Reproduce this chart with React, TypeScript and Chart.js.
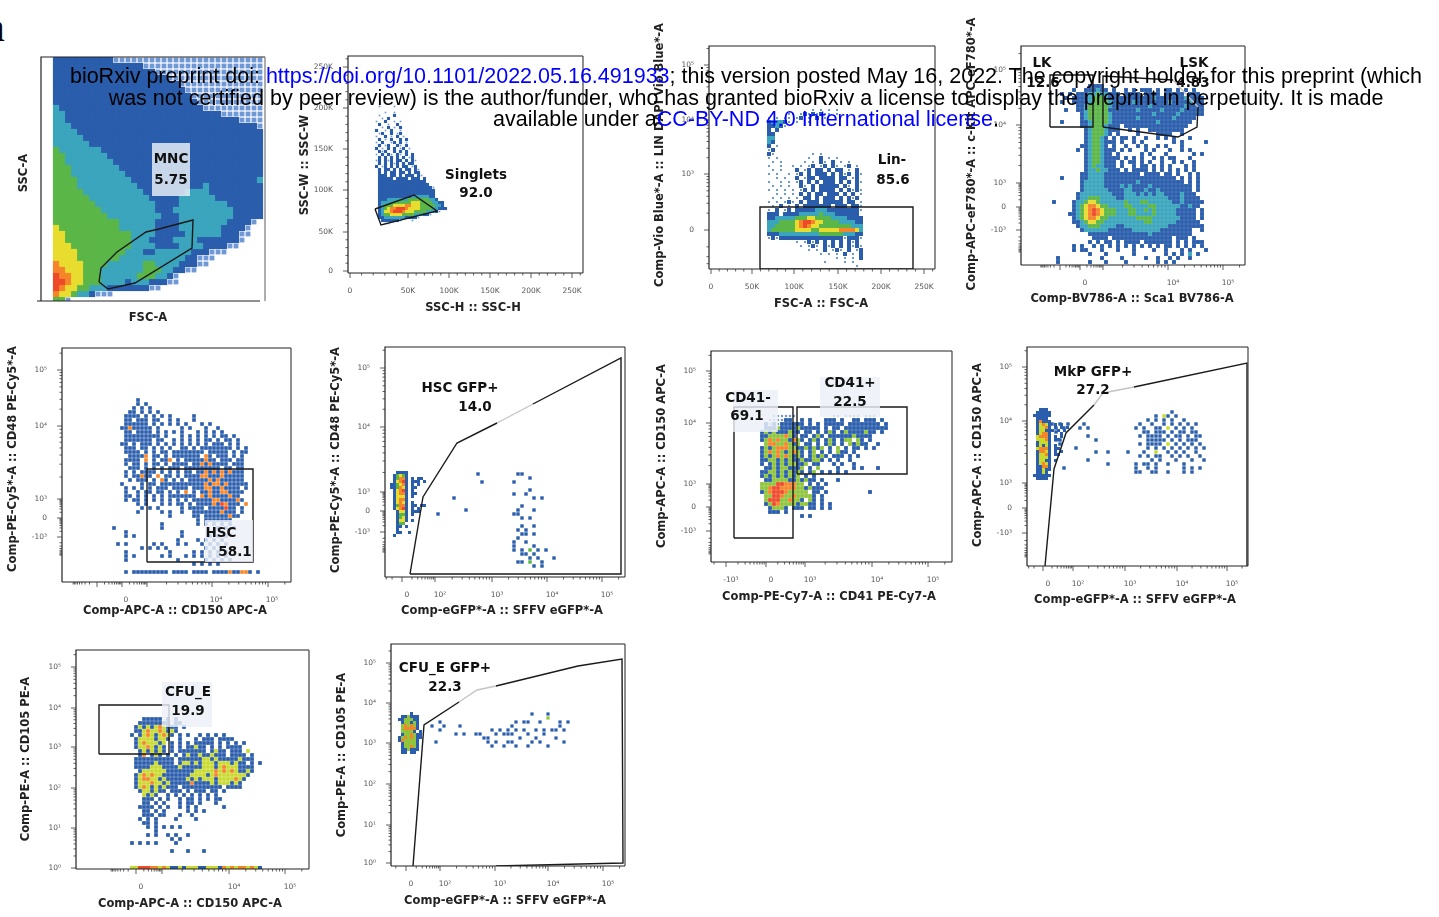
import { useEffect, useRef } from "react";
import { Chart, registerables } from "chart.js";
Chart.register(...registerables);

// ---------- density rows: each character is a density level ----------
const MNC_ROWS = [
"..1111111111aaaaaaaaaaaaaaaaaaaaaaaaa","..111111111111111aaaaaaaaaaaaaaaaaaaa","..11111111111111111aaaaaaaaaaaaaaaaaa","..1111111111111111111aaaaaaaaaaaaaaaa",
"..111111111111111111111aaaaaaaaaaaaaa","..1111111111111111111111aaaaaaaaaaaaa","..11111111111111111111111aaaaaaaaaaaa","..111111111111111111111111aaaaaaaaaaa",
"..2111111111111111111111111aaaaaaaaaa","..2211111111111111111111111111aaaaaaa","..2211111111111111111111111111111aaaa","..2221111111111111111111111111111111a",
"..22221111111111111111111111111111111","..22222111111111111111111111111111111","..22222211111111111111111111111111111","..32222222111111111111111111111111111",
"..33222222211111111111111111111111111","..33222222221111111111111111111111111","..33322222222111111111111111111111111","..33322222222211111111111111111111111",
"..33332222222221111111111111111111112","..33332222222222111111111112111111111","..33333222222222211111112222111111111","..33333322222222221111122222211111111",
"..33333332222222222111122222222111111","..33333333222222222111222222222211111","..33333333322222222211122222222211111","..333333333332222221111222222221111a",
"..43333333333222222111122222221111a","..4433333333333222211111222222111aa","..4433333333333222111122221111111a","..44433333333332222111122221111aa",
"..44443333333322211222222111aaa","..444433333332222222222211aaa","..544443333222222332222111aa","..5544433322222223332211aa",
"..65544333222222333221a","..6654433322221222111aa","..6544332221111111aa","..5443221aaa","..33a"];

const SINGLETS_ROWS = [
".a....a",".......","...a..a",".a....1","..a.1..","a..1..a.a",".1..a..1","..a.1.a.1","1..a.1..a",".a1..1.a1","a..1.a.1.a",".1.a.1..1.1","a.1..a1.1.a",".1.a1..1a.1",
"1.a.1.1.a1.a",".1a1..1.1.1.","a.1.1a.1a.1.1",".1.1.1.1.1.a1","a1.1a1.11.1.1a",".1.1.1a1.1.11","1.a1.1.1.11.a1",".1.11.1.1.11.1a",".1.1.11.11.1.11",".111.11.1.111.1a",
".11111.1111.111.1",".1111111111111111",".11111111111111111",".111111111111111111a",".1111111111111111111",".1111111111111111111",".1111111111122222211",".11122222223333333221",
".1222233333344433332211",".1233344445544433333221",".12345566654444333322111",".12445666544433332221a",".12334444333322211a",".1122222221111a","..111111a...a","...aa"];

const LIN_ROWS = [
"...........a.a.a.a......",".....aa.a1a1a1aa.a......","a.a.aa.a1.a.1.a.........","12221a.a..a.............","1121a...................","1.1.....................","11......................","22......................",
"21......................","1.a.....................","a1......................","1a.........a.a..........","a.a.......a..1.a.a......",".a.a.....a.a.1a.1.a.a...","a..a..a.a.a1.a1.1a.a1.a.",".a.a...1.a1.11.1.11.a.1.",
"a.a..a.a1.1.111.1.1a1.1a","..a.a..1.a11.1111.11.a1.","a..a.a.a1.1.1.111.1.1.1a",".a.a.a..1a.1.11111.1a.1.","a.a.a.a.a1.1.1111.1.1a1a","..a.a.a.1.1.11.111.1.1.a",".a.a.a.a.11.1.111.1.1a1.","a.a.a1a.1.111.11111.11.a",
".a.1.a.1.1111111.111.11a","a.1.a1.1111122211111111a","111.1111222223222111111","112222233344333322221111","222333345665443333222211","223333345654433333333222","233333344443344444555542","111222222222233333322211",
"a1a1111111111111111a111a",".......a.a1a1.1.1.1.1a1.","........a.a1a.1a1.1.1a1a","..........a.a.1.a1a.1.a1",".............a.a.a.1.a.1",".................a.a.a.1","..............a....a.a..","......................a"];

const KIT_ROWS = [
"..........1111","......1..111211.1..1.1.111.1.11.1.1.1","...1.1.11122322111.1111.1111.11111.111","....1.111123332111111111112111111121111","...1..111123333211111211111111211112111",".......11233333211111111121111111121111",
"....1..11233333111111121111121111211111","........1233333211111111112111112111111","........12333332111111211111111211111","...1....1123333211111111111211111111","........1123332111.1111111111111111",".........123332111..1.1..111111111",
".........1233321.1....1....1111..1",".........123321.1.11.1..1..1.1.1...1",".........12332111.1..1.1.......1.1.....1","........1123321.1..1..1.1..1.1...1",".......1.12332111.1.1...1.1...1..1.1",".........1233211.1.....1.1...1......1.1",
".........123321111.1.1.1..1.1.11...1",".........12332111.1.11.1.1..1..1.1..1",".........12322111.1..1.11.1.1.1...1.1",".........122322111.1.1111.1.1.1.1.1.1","........112222111111111.1111.11.1..1.1","...1....112222111111111111111111.1.1.1",
"........12222211111111211111111111.1.1","........1222221111212111121111111111.1","........1222222111122111211211111111.1",".......122222222111222121212211112111",".......1223332222112222222222211121111",".1....122344322222232223322222211211111",
"......12345543322223322223322222211211","......1234565433322233223232222211111.1",".....11234565433322233222232222211111.1","......1234554332222222333322222221111.1","......11234433222222222233222222111111",".......12233322221122222222222111111111",
"........1222222111111222222211111111..1","..........11111111111111121111111111","...........1111.111111111111111.111.1","..........1.1.11.1.1111.1111111.1.1.111","......1.1..1.1.1.1.1.1.1.1.1.11.1.1.1.1","......1.11...1...1...1....1..1...1.1...1",
"..........1...1......1.......1.1.1.2.1","..1..........1....1.....1..1..1.1..1","..1.......1...1....1.......1.1.1"];

const CD48_ROWS = [
"......1","......1.1",".....1.1.1","....11.1.1.1","...1111.1.1.1.1.....1","...11.111.11..1.1...1","...111111.1.1.1.1.1...1.1","..11511111.1.....1.1...1..1",
"...11.1111.1.1.1.1...1.1.1.1","...111111111.1...1.1.1.1.1.11.1","...1111111.11..1.1.1.1.11.1.11.1","..11.1.111.1.1.1.1.1.1.1.111.1.1","...111.11.1.1.1..11.1.11111111.1.1","...1111.1.1.11.11111111.11111.1.11","....11115.11.1.1111111.51.111.1.1","...1111.5.1.115.1.11111511.111.11",
"...1.11.1.11.1.1111.115151111.111","....111.1.1.1.111.111111111.11.11","...1.1.1111.1.1.1.11.115151515111","...1.11511.5.11.1.111155111511111","....1.111.1.51.1.1.11111515111111","..1....1.11.1111111111151551511111","...1.1.1.1.111.1111.111551151111.1","...1..1.11.11.1.1.5.1.11511551111",
"...11.1.1.1.1.1111111.5151111511","...1.11.1.1.1.1.1.1.1111155111151","......1.1...1.1.11.1.11115165111.5",".......1.1.1.....1.1111.1111611.1","......1.....1.1..1..11111115111.1","..............1.....11.111111511",".....................1.1111111","............1........1.1.1.1.1",
"1...........1.............1.1.1","...1.............1.......1.1","...1.1...........1......1.1.1","................1....1.1.1.1",".1.1......1.1...1.1...1.1.1.1",".......1.1.1.1.........1.1.1","...1..........1.....1.1.1.1.1","...1.1......1.1...1.1.1.1.1.1",
"...1............1......1.1.1.1","....................1.1.1.1","","...1.111111111.1111.1111.1111511551.1"];

const GFP_HSC_STRIP = [
"..1111",".13431",".13551.1.11",".14561.111.1","113451.1.1","113541.11",".14561.1",".14551.11",".14441.1",".14551",".14541.1",".13551.11.11",".14561.1.1","..1441.111","..1331.1","..1341","..1441.1","..133","..11.1","..1","..11..1",".1"];
const GFP_HSC_CLOUD = [
"...........1.........11","........................1","............1.......1","","........................1","....................1..1",".....1...................1.1","","......................1","........1............1...1",
".1..................11","......................1.1","","......................1..1",".....................1.1","......................11.1",".....................1","....................1..1","....................1....1","....................1.1.3.1.1",
"......................11.1","........................1.1...1",".....................11.3..1",".........................1.1"];

const CD41_ROWS = [
".....aaaaaa.........aa.aaaa.aaa","....aaaa11..1.1...111.1..11.111.1","...1a1a111111.1.1.11111.11111111.1","...111g1111g11111.1.11.11111111111","..1g1g111g11.11.1.1g1.1g1111g11.1","..11gggg5g1.11.1g1.111111g1111","..1g5g5gg15g1.1g1.1g1.1gg.g1.1","...g55gg5g1g.11.1.1g1.1.g1g11..1",
"..1g1g555gg11g1g1g.1.g.1.11.1.1","..1g5g5g1g5g1.1g.1.1.g11.1","..1g1g5g5g1g1.1g1g1.111.1.1","..11gg1g1g11g11gg1.1.1..1","..1.1g1g1gg11g.11...1.1..1","...11g1gg111g.1.g....1...1.1...1","..11gg1g1g1g1.1g.1.1.1.1","..1g1g1g1g1g.1.1",
"...11gggg11g1g11.1...1","..gggg66555gg.1.1.1","..gg5665555gg1g111","..1g56665ggggg.11.1..........1","...gg665gg5gggg1.1","...g666gg5gg1.g1.1","...1g65gggg1gg11.1.1","....1ggg1.111.11.1.1","....111.1","............1.1"];

const GFP_MKP_STRIP = [
"..111",".11111","111111",".1111",".15111",".1y5y1.1.1",".1yy51.1.1.1",".1yy111.1.1",".1y551...1",".y5551.1.1",".yyy51.11",".1yyy1",".1y1y1.1",".y5551.11",".155y1.1.1",".1yy51.11",".1yyy1",".1yy11.1",".1y5y1",".11551",".11y11",".11y1","111111",".1111"];
const GFP_MKP_CLOUD = [
"..............................1","..........................1.y1.1","........................1.1.1.1..1","1.1.1...1.............1..1..1.1.1.1.1",".1.1...1.1...........1.1..11.y.1.1.1",".1.....................11.111.1.11.11",".........1............1.1111.1.11.1.11",".11........1............11111.1.1.111",
"..1...................1.1111.y.1.1.1.1","......1.................1.1.1.1.1.1.1.1","...........1..1....1...1..y..1.1.1..1","......................1.1.11..1.1.1..1",".........1...............1.1...1...1..1","..............1......1.11.1..1...1","...1.................1..1.1......1.1.1",".....................11..11..1...1.1"];

const CD105_ROWS = [
"...11111.1.1","..11111111.11",".1y1y1y5y111.1",".11y5yy5y1y1","1.1y5y1y5y1.1.1..1.1.1.1",".1yyyy1yy1..1...1.111.1111",".1y5yyy1y.1.1.1.11111.1.1.1.1",".1yy5y1y1.1.1.11y11.1.1.1111","..1y1y1y1.1.1111111.1y11.111.y","..15.1y1.1.1.1y11y11y111.1111.1",
".1111111111.111111yy1y11111y111",".11111y1111.1yy1y1yyy1yyy1y11.1.1",".1111yyy1111y11111yyy1y5yyy1111","..1yyyyyy1111111yyyyy5y5y5y11y1",".1y5y5yy1111111yyyy1y5yyyyyyy1",".1y55yy1y11111y1y1yyy1yyyy5y1",".1yyy5yy1y1111151111y1yyy1y1",".1y5y1y1y111.1111111111.1111","..1yy1y11.111.1.111.11.1","...y1y1..1.1.1.1.1.1.1",
"...111.1.1..1.11.1.1.11","...11.1.1...1.11.1...1","..1111.1.1..1.1.1......1","...11.1.1.....1.1.1","...111.11...1..1","..1.1.1....1....1","...11.1","....1.1.1.1.1","......1","....1.1..1.1..1","..........1.1","1.1.1.1....1","","..........1...1...1"];
const CD105_AXIS_STRIP = ["yy66655y5y11y1yyy11yyy15y5y55y5y1"];

const GFP_CFU_STRIP = ["....1",".11g111","11ggg11",".1gg1g1",".g5g5g1",".g55551",".gggg1.1",".1gg5g11","1g5g5g11","15gggg1",".1gggg1",".1gg5g1",".11g111",".11.11"];
const GFP_CFU_CLOUD = [
".........................1...1",".............................g","..1..................1.11..1....1.1","1..1...1............1...........1","..1............1.1.1.1.1..1.1.11.1","......1.1..11...1.111...1...1",".............11.......1...1....1",".1............1.1..11....1.1.....1","...............1..1..1..1....1"];

// ---------- gates, as [x channel, y channel] vertices ----------
const MNC_GATE = [[58,19],[60,33],[76,49],[105,69],[118,72],[152,81],[151,53],[94,18],[67,12],[58,19]];
const SINGLETS_GATE = [[27,64],[66,78],[89,62],[33,48],[27,64]];
const LIN_GATE = [[51,0],[51,62],[204,62],[204,0],[51,0]];
const LK_GATE = [[29,138],[29,190],[72,190],[72,138],[29,138]];
const LSK_GATE_A = [[82,138],[82,189],[152,185]];
const LSK_GATE_B = [[177,158],[176,138],[157,128],[82,138]];
const LSK_GATE_GREY = [[152,185],[177,158]];
const HSC_GATE = [[85,20],[85,113],[191,113],[191,20],[85,20]];
const HSC_GFP_GATE_A = [[25,3],[38,80],[72,134],[112,154]];
const HSC_GFP_GATE_B = [[148,173],[236,219],[236,3],[25,3]];
const HSC_GFP_GATE_GREY = [[112,154],[148,173]];
const CD41N_GATE = [[23,24],[23,155],[82,155],[82,24],[23,24]];
const CD41P_GATE = [[86,88],[86,155],[196,155],[196,88],[86,88]];
const MKP_GATE_A = [[18,0],[27,97],[39,133],[67,161]];
const MKP_GATE_B = [[107,179],[220,203],[220,0]];
const MKP_GATE_GREY = [[67,161],[76,173],[107,179]];
const CFU_GATE = [[23,115],[23,164],[93,164],[93,115],[23,115]];
const CFU_GFP_GATE_A = [[22,0],[33,141],[68,164]];
const CFU_GFP_GATE_B = [[105,180],[187,200],[231,207],[232,3],[105,0]];
const CFU_GFP_GATE_GREY = [[68,164],[86,176],[105,180]];

// ---------- tick positions (channels) and their labels ----------
const LIN_LABELS = ["0","50K","100K","150K","200K","250K"];
const P2_X = [2,60,101,142,183,224];
const P2_Y = [2,41,83,124,165,206];
const P3_X = [2,43,85,129,172,215];
const P3_Y = [39,95,149,204];
const P3_Y_LABELS = ["0","10³","10⁴","10⁵"];
const P4_X = [39,59,82,147,202];
const P4_X_LABELS = ["","0","","10⁴","10⁵"];
const P4_Y = [35,58,82,140,195];
const BI_Y_LABELS = ["-10³","0","10³","10⁴","10⁵"];
const P5_X = [35,60,85,150,206];
const P5_Y = [45,64,83,156,212];
const P6_X = [17,50,107,162,217];
const GFP_LABELS = ["0","10²","10³","10⁴","10⁵"];
const P6_Y = [45,66,85,150,209];
const P7_X = [15,55,94,161,217];
const P7_Y = [31,55,78,139,191];
const P8_X = [16,46,98,150,200];
const P8_Y = [33,58,83,145,199];
const P9_X = [60,86,153,209];
const P9_X_LABELS = ["0","","10⁴","10⁵"];
const LOG_Y_LABELS = ["10⁰","10¹","10²","10³","10⁴","10⁵"];
const P9_Y = [1,41,81,122,161,202];
const P10_X = [15,49,104,157,212];
const P10_Y = [3,41,82,123,163,203];

const LEVEL_COLORS: Record<string,string> = { a:"#6f98d4","1":"#2a5dab","2":"#3aa5bd","3":"#5bb648",g:"#8fc43c",y:"#c8da2c","4":"#e8dc2e","5":"#f5852a","6":"#ee4a2a" };
const DRAW_ORDER = ["a","1","2","3","g","y","4","5","6"];
const LABEL_FONT = "bold 13.5px 'DejaVu Sans'";
const TITLE_FONT = "bold 11.5px 'DejaVu Sans'";
const BLACK = "#1a1a1a", GREY = "#c4c4c4";

type Grid = { x0:number; top:number; cell:number; fill:number; aFill?:number; rows:string[] };
type Panel = { L:number;T:number;W:number;H:number; grids:Grid[]; gates:[number[][],string][]; texts:[string,number,number][]; boxes:number[][];
  xt:[string,number,number]; yt:[string,number,number]; xTicks:number[]; xLabels:string[]; yTicks:number[]; yLabels:string[]; kind:string; xOff:number; rightColor?:string };

const PANELS: Panel[] = [
 { L:41,T:57,W:224,H:244, grids:[{x0:0,top:244,cell:6,fill:1.03,aFill:.8,rows:MNC_ROWS}], gates:[[MNC_GATE,BLACK]], texts:[["MNC",130,142],["5.75",130,121]], boxes:[[111,158,149,105]],
   xt:["FSC-A",148,318], yt:["SSC-A",24,173], xTicks:[],xLabels:[],yTicks:[],yLabels:[],kind:"none",xOff:0,rightColor:"#777" },
 { L:348,T:56,W:235,H:217, grids:[{x0:27,top:168,cell:3,fill:1.03,rows:SINGLETS_ROWS}], gates:[[SINGLETS_GATE,BLACK]], texts:[["Singlets",128,98],["92.0",128,80]], boxes:[],
   xt:["SSC-H :: SSC-H",473,308], yt:["SSC-W :: SSC-W",305,165], xTicks:P2_X,xLabels:LIN_LABELS,yTicks:P2_Y,yLabels:LIN_LABELS,kind:"lin",xOff:0 },
 { L:709,T:46,W:226,H:223, grids:[{x0:58,top:161,cell:4,fill:1,aFill:.5,rows:LIN_ROWS}], gates:[[LIN_GATE,BLACK]], texts:[["Lin-",183,109],["85.6",184,89]], boxes:[],
   xt:["FSC-A :: FSC-A",821,304], yt:["Comp-Vio Blue*-A :: LIN DAPI Vio Blue*-A",660,155], xTicks:P3_X,xLabels:LIN_LABELS,yTicks:P3_Y,yLabels:P3_Y_LABELS,kind:"mix",xOff:0 },
 { L:1021,T:46,W:224,H:219, grids:[{x0:27,top:181,cell:4,fill:.97,rows:KIT_ROWS}], gates:[[LK_GATE,BLACK],[LSK_GATE_A,BLACK],[LSK_GATE_B,BLACK],[LSK_GATE_GREY,GREY]], texts:[["LK",21,202],["12.6",22,182],["LSK",173,202],["4.83",172,182]], boxes:[],
   xt:["Comp-BV786-A :: Sca1 BV786-A",1132,299], yt:["Comp-APC-eF780*-A :: c-Kit APC-eF780*-A",972,154], xTicks:P4_X,xLabels:P4_X_LABELS,yTicks:P4_Y,yLabels:BI_Y_LABELS,kind:"bi",xOff:5 },
 { L:62,T:348,W:229,H:234, grids:[{x0:50,top:184,cell:4,fill:.9,rows:CD48_ROWS}], gates:[[HSC_GATE,BLACK]], texts:[["HSC",159,49],["58.1",173,30]], boxes:[[143,62,191,20]],
   xt:["Comp-APC-A :: CD150 APC-A",175,611], yt:["Comp-PE-Cy5*-A :: CD48 PE-Cy5*-A",13,459], xTicks:P5_X,xLabels:["","0","","10⁴","10⁵"],yTicks:P5_Y,yLabels:BI_Y_LABELS,kind:"bi",xOff:4 },
 { L:385,T:347,W:240,H:230, grids:[{x0:5,top:106,cell:3,fill:1,rows:GFP_HSC_STRIP},{x0:47,top:105,cell:4,fill:.85,rows:GFP_HSC_CLOUD}], gates:[[HSC_GFP_GATE_A,BLACK],[HSC_GFP_GATE_B,BLACK],[HSC_GFP_GATE_GREY,GREY]], texts:[["HSC GFP+",75,189],["14.0",90,170]], boxes:[],
   xt:["Comp-eGFP*-A :: SFFV eGFP*-A",502,611], yt:["Comp-PE-Cy5*-A :: CD48 PE-Cy5*-A",336,460], xTicks:P6_X,xLabels:GFP_LABELS,yTicks:P6_Y,yLabels:BI_Y_LABELS,kind:"bi",xOff:5 },
 { L:711,T:351,W:241,H:211, grids:[{x0:41,top:148,cell:4,fill:.95,rows:CD41_ROWS}], gates:[[CD41N_GATE,BLACK],[CD41P_GATE,BLACK]], texts:[["CD41-",37,164],["69.1",36,146],["CD41+",139,179],["22.5",139,160]], boxes:[[22,172,67,130],[109,185,169,145]],
   xt:["Comp-PE-Cy7-A :: CD41 PE-Cy7-A",829,597], yt:["Comp-APC-A :: CD150 APC-A",662,456], xTicks:P7_X,xLabels:["-10³","0","10³","10⁴","10⁵"],yTicks:P7_Y,yLabels:BI_Y_LABELS,kind:"bi",xOff:5 },
 { L:1027,T:347,W:221,H:219, grids:[{x0:6,top:158,cell:3,fill:1,rows:GFP_MKP_STRIP},{x0:23,top:156,cell:4,fill:.85,rows:GFP_MKP_CLOUD}], gates:[[MKP_GATE_A,BLACK],[MKP_GATE_B,BLACK],[MKP_GATE_GREY,GREY]], texts:[["MkP GFP+",66,194],["27.2",66,176]], boxes:[],
   xt:["Comp-eGFP*-A :: SFFV eGFP*-A",1135,600], yt:["Comp-APC-A :: CD150 APC-A",978,455], xTicks:P8_X,xLabels:GFP_LABELS,yTicks:P8_Y,yLabels:BI_Y_LABELS,kind:"bi",xOff:5 },
 { L:76,T:650,W:233,H:219, grids:[{x0:54,top:152,cell:4,fill:.93,rows:CD105_ROWS},{x0:54,top:3,cell:4,fill:1,rows:CD105_AXIS_STRIP}], gates:[[CFU_GATE,BLACK]], texts:[["CFU_E",112,177],["19.9",112,158]], boxes:[[86,187,136,142]],
   xt:["Comp-APC-A :: CD150 APC-A",190,904], yt:["Comp-PE-A :: CD105 PE-A",26,759], xTicks:P9_X,xLabels:P9_X_LABELS,yTicks:P9_Y,yLabels:LOG_Y_LABELS,kind:"bi",xOff:5 },
 { L:391,T:644,W:234,H:222, grids:[{x0:7,top:154,cell:3,fill:1,rows:GFP_CFU_STRIP},{x0:39,top:154,cell:4,fill:.8,rows:GFP_CFU_CLOUD}], gates:[[CFU_GFP_GATE_A,BLACK],[CFU_GFP_GATE_B,BLACK],[CFU_GFP_GATE_GREY,GREY]], texts:[["CFU_E GFP+",54,198],["22.3",54,179]], boxes:[],
   xt:["Comp-eGFP*-A :: SFFV eGFP*-A",505,901], yt:["Comp-PE-A :: CD105 PE-A",342,755], xTicks:P10_X,xLabels:GFP_LABELS,yTicks:P10_Y,yLabels:LOG_Y_LABELS,kind:"bi",xOff:5 },
];

const PAD = { left:56, top:45, right:8, bottom:48 };

function tickSet(pos:number[], labels:string[], kind:string, max:number, axisIsLog:boolean){
  const out = new Map<number,boolean>();
  pos.forEach(p=>out.set(p,true));
  const logF = [2,3,4,5,6,7,8,9].map(k=>Math.log10(k));
  for(let i=0;i<pos.length-1;i++){
    const a=pos[i], b=pos[i+1];
    if(kind==="lin"){ for(let k=1;k<5;k++) out.set(a+(b-a)*k/5,false); }
    else { logF.forEach(f=>out.set(a+(b-a)*f,false)); }
  }
  if(pos.length>1 && kind!=="none"){
    const n=pos.length, d=pos[n-1]-pos[n-2];
    if(kind==="lin"){ for(let k=1;k<3;k++){const v=pos[n-1]+d*k/5; if(v<max) out.set(v,false);} }
    else { logF.forEach(f=>{const v=pos[n-1]+d*f; if(v<max) out.set(v,false);}); }
    if(!axisIsLog && kind!=="lin"){ const d0=pos[1]-pos[0]; logF.forEach(f=>{const v=pos[0]-d0*f; if(v>0) out.set(v,false);}); }
  }
  const map=new Map<number,string>(); pos.forEach((p,i)=>map.set(p,labels[i]||""));
  return { ticks:[...out.entries()].sort((u,v)=>u[0]-v[0]).map(([value,major])=>({value,major})), map };
}

function gridDatasets(g:Grid){
  return DRAW_ORDER.map((lev,i)=>{
    const data:{x:number,y:number}[]=[];
    g.rows.forEach((row,r)=>{ for(let c=0;c<row.length;c++){ if(row[c]===lev) data.push({x:g.x0+(c+.5)*g.cell,y:g.top-(r+.5)*g.cell}); } });
    const side=g.cell*(lev==="a"?(g.aFill??.55):g.fill);
    return { label:"level "+lev, data, showLine:false, pointStyle:"rect", pointRadius:side/Math.SQRT2, pointHoverRadius:0, backgroundColor:LEVEL_COLORS[lev], borderWidth:0, order:100-i };
  }).filter(d=>d.data.length>0);
}

function PanelChart({p}:{p:Panel}){
  const ref=useRef<HTMLCanvasElement>(null);
  const left=p.L-PAD.left, top=p.T-PAD.top, cw=p.W+PAD.left+PAD.right, ch=p.H+PAD.top+PAD.bottom;
  useEffect(()=>{
    const xs=tickSet(p.xTicks,p.xLabels,p.kind==="mix"?"lin":p.kind,p.W,false);
    const ys=tickSet(p.yTicks,p.yLabels,p.kind==="mix"?"bi":p.kind,p.H,p.yLabels[0]==="10⁰");
    const datasets:any[]=[];
    p.grids.forEach(g=>datasets.push(...gridDatasets(g)));
    p.gates.forEach(([pts,color],i)=>datasets.push({label:"gate "+i,data:pts.map(([x,y])=>({x,y})),showLine:true,pointRadius:0,borderColor:color,borderWidth:1.4,fill:false,tension:0,order:1}));
    const overlay={ id:"overlay",
      afterDatasetsDraw(c:any){
        const x=c.scales.x,y=c.scales.y,ctx=c.ctx,a=c.chartArea;
        ctx.save();
        p.boxes.forEach(([x1,y1,x2,y2])=>{ ctx.fillStyle="rgba(235,240,248,.82)"; ctx.fillRect(x.getPixelForValue(x1),y.getPixelForValue(y1),x.getPixelForValue(x2)-x.getPixelForValue(x1),y.getPixelForValue(y2)-y.getPixelForValue(y1)); });
        ctx.strokeStyle="#222"; ctx.lineWidth=1.2;
        ctx.beginPath(); ctx.moveTo(a.left,a.bottom); ctx.lineTo(a.left,a.top); ctx.lineTo(a.right,a.top); ctx.stroke();
        ctx.beginPath(); ctx.moveTo(a.left-(p.kind==="none"?4:0),a.bottom); ctx.lineTo(a.right-(p.kind==="none"?5:0),a.bottom); ctx.stroke();
        ctx.strokeStyle=p.rightColor||"#444"; ctx.beginPath(); ctx.moveTo(a.right,a.top); ctx.lineTo(a.right,a.bottom); ctx.stroke();
        ctx.strokeStyle="#333"; ctx.lineWidth=.8; ctx.beginPath();
        x.ticks.forEach((t:any)=>{const px=x.getPixelForValue(t.value); ctx.moveTo(px,a.bottom); ctx.lineTo(px,a.bottom+(t.major?5:2.5));});
        y.ticks.forEach((t:any)=>{const py=y.getPixelForValue(t.value); ctx.moveTo(a.left,py); ctx.lineTo(a.left-(t.major?5:2.5),py);});
        ctx.stroke();
        ctx.fillStyle="#111"; ctx.font=LABEL_FONT; ctx.textAlign="center"; ctx.textBaseline="middle";
        p.texts.forEach(([s,tx,ty])=>ctx.fillText(s,x.getPixelForValue(tx),y.getPixelForValue(ty)));
        ctx.font=TITLE_FONT; ctx.fillStyle="#222";
        ctx.fillText(p.xt[0],p.xt[1]-left,p.xt[2]-top);
        ctx.translate(p.yt[1]-left,p.yt[2]-top); ctx.rotate(-Math.PI/2); ctx.fillText(p.yt[0],0,0);
        ctx.restore();
      } };
    const tickFont={family:"'DejaVu Sans'",size:7.5};
    const chart=new Chart(ref.current!,{ type:"scatter", data:{datasets},
      options:{ animation:false, responsive:false, events:[], devicePixelRatio:1,
        layout:{padding:{top:PAD.top,right:PAD.right,left:0,bottom:0}},
        plugins:{legend:{display:false},tooltip:{enabled:false}},
        scales:{
          x:{type:"linear",min:0,max:p.W,grid:{display:false},border:{display:false},
            afterBuildTicks:(s:any)=>{s.ticks=xs.ticks.map(t=>({...t}));}, afterFit:(s:any)=>{s.height=PAD.bottom;},
            ticks:{autoSkip:false,maxRotation:0,minRotation:0,padding:6,labelOffset:p.xOff,color:"#555",font:tickFont,callback:(v:any)=>xs.map.get(v)??""}},
          y:{type:"linear",min:0,max:p.H,grid:{display:false},border:{display:false},
            afterBuildTicks:(s:any)=>{s.ticks=ys.ticks.map(t=>({...t}));}, afterFit:(s:any)=>{s.width=PAD.left;},
            ticks:{autoSkip:false,maxRotation:0,minRotation:0,padding:7,color:"#555",font:tickFont,callback:(v:any)=>ys.map.get(v)??""}}
        } } as any,
      plugins:[overlay] });
    return ()=>chart.destroy();
  },[]);
  return <canvas ref={ref} width={cw} height={ch} style={{position:"absolute",left,top,width:cw,height:ch}}/>;
}

const HEADER_STYLE:any={position:"absolute",left:46,width:1400,textAlign:"center",fontFamily:"'Liberation Sans'",fontSize:21.5,lineHeight:"24px",color:"#000",whiteSpace:"nowrap",zIndex:5};
const BLUE={color:"#0000ff"};

export default function App(){
  return <div style={{position:"fixed",left:0,top:0,width:1439,height:917,overflow:"hidden",background:"#fff"}}>
    <div style={{position:"absolute",left:-13,top:6,fontFamily:"'Liberation Serif'",fontSize:40,lineHeight:"44px",color:"#000"}}>a</div>
    {PANELS.map((p,i)=><PanelChart key={i} p={p}/>)}
    <div style={{...HEADER_STYLE,top:64}}>bioRxiv preprint doi: <span style={BLUE}>https://doi.org/10.1101/2022.05.16.491933</span>; this version posted May 16, 2022. The copyright holder for this preprint (which</div>
    <div style={{...HEADER_STYLE,top:86}}>was not certified by peer review) is the author/funder, who has granted bioRxiv a license to display the preprint in perpetuity. It is made</div>
    <div style={{...HEADER_STYLE,top:107}}>available under a<span style={BLUE}>CC-BY-ND 4.0 International license</span>.</div>
  </div>;
}
